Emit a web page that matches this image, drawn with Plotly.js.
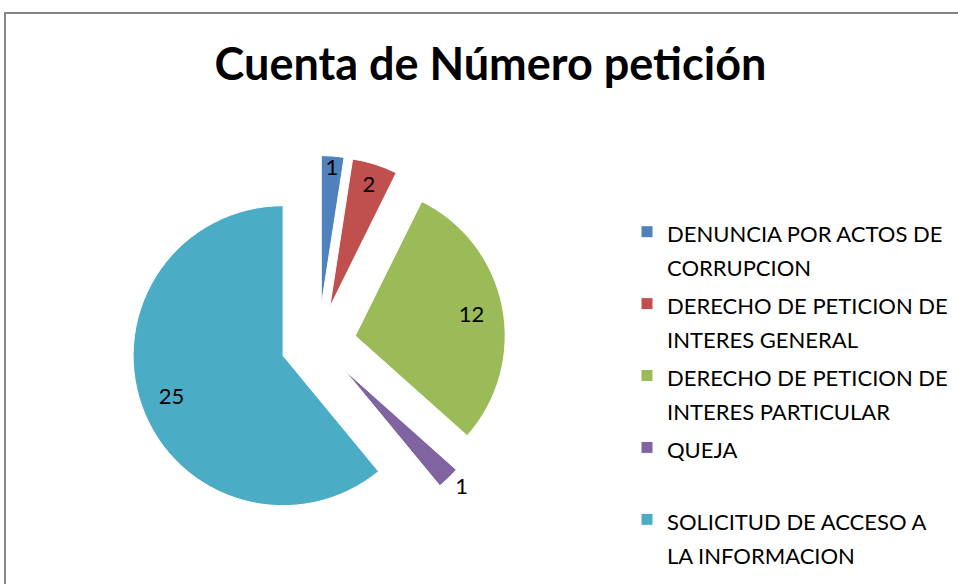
<!DOCTYPE html>
<html><head><meta charset="utf-8">
<script src="https://cdn.plot.ly/plotly-3.0.1.min.js"></script>
<style>html,body{margin:0;padding:0;background:#fff;}#chart{width:958px;height:584px;}</style>
</head><body><div id="chart"></div>
<script>
const categories = [
  ["DENUNCIA POR ACTOS DE", "CORRUPCION"],
  ["DERECHO DE PETICION DE", "INTERES GENERAL"],
  ["DERECHO DE PETICION DE", "INTERES PARTICULAR"],
  ["QUEJA", "\u00a0"],
  ["SOLICITUD DE ACCESO A", "LA INFORMACION"]
];
const counts = [1, 2, 12, 1, 25];
const colors = ["#4F81BD", "#C0504D", "#9BBB59", "#8064A2", "#4BACC6"];
const labelPositions = ["inside", "inside", "inside", "outside", "inside"];

const W = 958, H = 584;
const legendTextPx = 22;
const labels = categories.map(lines =>
  lines.map(l => '<span style="font-size:' + legendTextPx + 'px">' + l + '</span>').join('<br>'));

const cx = 318.4, cy = 343, half = 187.5;
const domain = {x: [(cx - half) / W, (cx + half) / W], y: [1 - (cy + half) / H, 1 - (cy - half) / H]};
const pulls = counts.map(() => 0.25);

const pieTrace = {
  type: 'pie',
  labels: labels,
  values: counts,
  sort: false,
  direction: 'clockwise',
  rotation: 0,
  pull: pulls,
  textinfo: 'none',
  marker: {colors: colors, line: {color: '#ffffff', width: 1}},
  domain: domain,
  hoverinfo: 'label+value'
};

// transparent overlay ring that carries the data labels (places them further out, like the original)
const labelTrace = {
  type: 'pie',
  labels: labels,
  values: counts,
  sort: false,
  direction: 'clockwise',
  rotation: 0,
  pull: pulls,
  hole: 0.58,
  showlegend: false,
  textinfo: 'value',
  textposition: labelPositions,
  insidetextorientation: 'horizontal',
  textfont: {family: 'Lato', size: 22, color: '#000'},
  marker: {colors: counts.map(() => 'rgba(0,0,0,0)'), line: {width: 0}},
  domain: domain,
  hoverinfo: 'skip'
};

const layout = {
  width: W, height: H,
  margin: {l: 0, r: 0, t: 0, b: 0, autoexpand: false},
  paper_bgcolor: '#ffffff',
  uniformtext: {mode: 'show', minsize: 22},
  title: {
    text: 'Cuenta de Número petición',
    font: {family: 'Lato', size: 45, weight: 700, color: '#000'},
    x: 490.5 / W, xanchor: 'center', xref: 'paper',
    y: 1 - 64 / H, yanchor: 'middle', yref: 'paper'
  },
  showlegend: true,
  legend: {
    x: 627 / W, xanchor: 'left',
    y: 1 - 208 / H, yanchor: 'top',
    valign: 'top',
    font: {family: 'Lato', size: 26.5, color: '#000'},
    bgcolor: 'rgba(0,0,0,0)'
  },
  shapes: [{
    type: 'rect', xref: 'paper', yref: 'paper',
    x0: 5 / W, x1: 1.02, y0: -0.03, y1: 1 - 13 / H,
    line: {color: '#868686', width: 2}, fillcolor: 'rgba(0,0,0,0)', layer: 'below'
  }]
};

Plotly.newPlot('chart', [pieTrace, labelTrace], layout, {displayModeBar: false, staticPlot: true});
</script>
</body></html>
